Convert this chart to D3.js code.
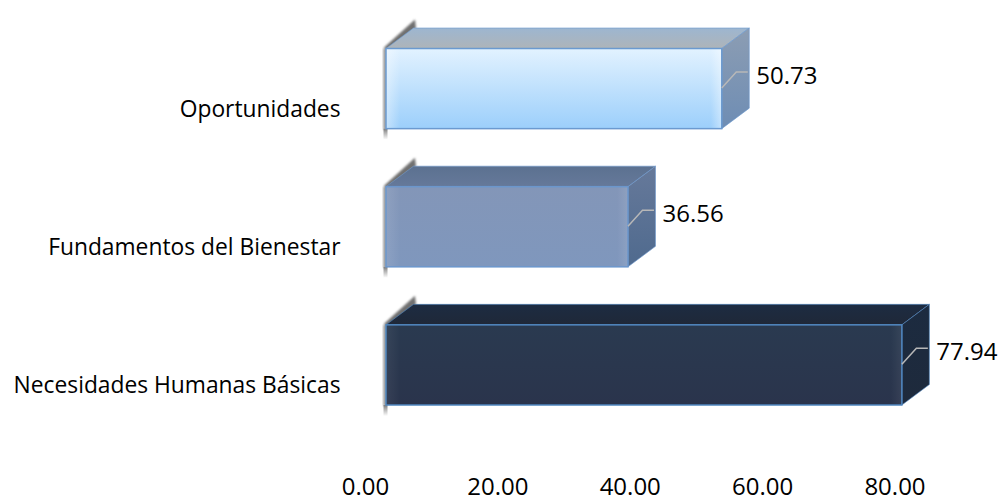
<!DOCTYPE html>
<html><head><meta charset="utf-8">
<script src="https://cdn.jsdelivr.net/npm/d3@7"></script>
<style>html,body{margin:0;background:#fff}svg{display:block}text{font-family:"Open Sans",sans-serif;fill:#000}</style>
</head><body><svg id="c" width="1000" height="498"></svg>
<script>
const categories=["Oportunidades","Fundamentos del Bienestar","Necesidades Humanas Básicas"];
const values=[50.73,36.56,77.94];
const tickValues=[0,20,40,60,80];
const frontTop=["#e2f2ff","#8396b8","#2a3a50"];
const frontBottom=["#9ccffb","#7f97bd","#2a344c"];
const topBack=["#9db6d0","#5b7190","#1d2c42"];
const topFront=["#aeb4b9","#66799a","#1f2838"];
const sideTop=["#8c9db3","#66799a","#1c2b40"];
const sideBottom=["#6e8db4","#4f6a8e","#1e2a3c"];
const edgeColors=["#6b9ad0","#6b96cc","#4f86bf"];
const glow=[0.4,0.1,0.06];

const svg=d3.select("#c");
const x=d3.scaleLinear().domain([0,80]).range([386,915.5]);
const y=d3.scaleBand().domain(categories).range([48.5,405]).paddingInner(0.42).paddingOuter(0);
const dx=27.5,dy=-20.5;
const defs=svg.append("defs");
defs.append("filter").attr("id","blur").attr("x","-50%").attr("y","-50%").attr("width","200%").attr("height","200%")
  .append("feGaussianBlur").attr("stdDeviation",1.3);
const grad=(id,a,b,horizontal,oa=1,ob=1)=>{
  const g=defs.append("linearGradient").attr("id",id).attr("x1",0).attr("y1",0).attr("x2",horizontal?1:0).attr("y2",horizontal?0:1);
  g.append("stop").attr("offset",0).attr("stop-color",a).attr("stop-opacity",oa);
  g.append("stop").attr("offset",1).attr("stop-color",b).attr("stop-opacity",ob);
};
categories.forEach((c,i)=>{
  grad("f"+i,frontTop[i],frontBottom[i]);
  grad("t"+i,topBack[i],topFront[i]);
  grad("s"+i,sideTop[i],sideBottom[i]);
});
grad("fadeL","#fff","#fff",true,1,0);
grad("fadeR","#fff","#fff",true,0,1);
grad("fadeD","#808080","#808080",false,1,0);
const poly=d=>d.map(p=>p.join(",")).join(" ");
const bars=svg.append("g").selectAll("g").data(categories).join("g");
bars.each(function(c,i){
  const g=d3.select(this),x0=x(0),x1=x(values[i]),t=y(c),b=t+y.bandwidth();
  // soft shadow on the left wall
  g.append("polygon").attr("points",poly([[x0-2,t-1],[x0+29,t-29],[x0+30,t+dy],[x0+1,t+2]])).attr("fill","#6f6f6f").attr("filter","url(#blur)");
  g.append("rect").attr("x",x0-2.5).attr("y",t).attr("width",3).attr("height",b-t+1).attr("fill","#8a8a8a").attr("filter","url(#blur)");
  g.append("rect").attr("x",x0-2.5).attr("y",b).attr("width",4).attr("height",11).attr("fill","url(#fadeD)");
  // box faces
  g.append("polygon").attr("points",poly([[x0,t],[x0+dx,t+dy],[x1+dx,t+dy],[x1,t]])).attr("fill",`url(#t${i})`).attr("stroke",edgeColors[i]).attr("stroke-opacity",.6);
  g.append("polygon").attr("points",poly([[x1,t],[x1+dx,t+dy],[x1+dx,b+dy],[x1,b]])).attr("fill",`url(#s${i})`).attr("stroke",edgeColors[i]).attr("stroke-opacity",.6);
  g.append("rect").attr("x",x0).attr("y",t).attr("width",x1-x0).attr("height",b-t).attr("fill",`url(#f${i})`);
  // bevel highlights
  g.append("rect").attr("x",x0).attr("y",t).attr("width",14).attr("height",b-t).attr("fill","url(#fadeL)").attr("opacity",glow[i]);
  g.append("rect").attr("x",x1-11).attr("y",t).attr("width",11).attr("height",b-t).attr("fill","url(#fadeR)").attr("opacity",glow[i]);
  g.append("rect").attr("x",x0).attr("y",t).attr("width",x1-x0).attr("height",b-t).attr("fill","none").attr("stroke",edgeColors[i]).attr("stroke-width",1.5);
  // leader line and labels
  g.append("polyline").attr("points",poly([[x1,t+39.5],[x1+14.5,t+23.5],[x1+26,t+23.5]])).attr("fill","none").attr("stroke","#b8b8b8").attr("stroke-width",1.5);
  g.append("text").attr("x",x1+34.5).attr("y",t+35).attr("font-size",24).text(values[i].toFixed(2));
  g.append("text").attr("x",340.5).attr("y",t+68).attr("text-anchor","end").attr("font-size",22.8).text(c);
});
svg.append("g").selectAll("text").data(tickValues).join("text")
  .attr("x",d=>x(d)-20.5).attr("y",495).attr("text-anchor","middle").attr("font-size",24).text(d=>d.toFixed(2));
</script></body></html>
